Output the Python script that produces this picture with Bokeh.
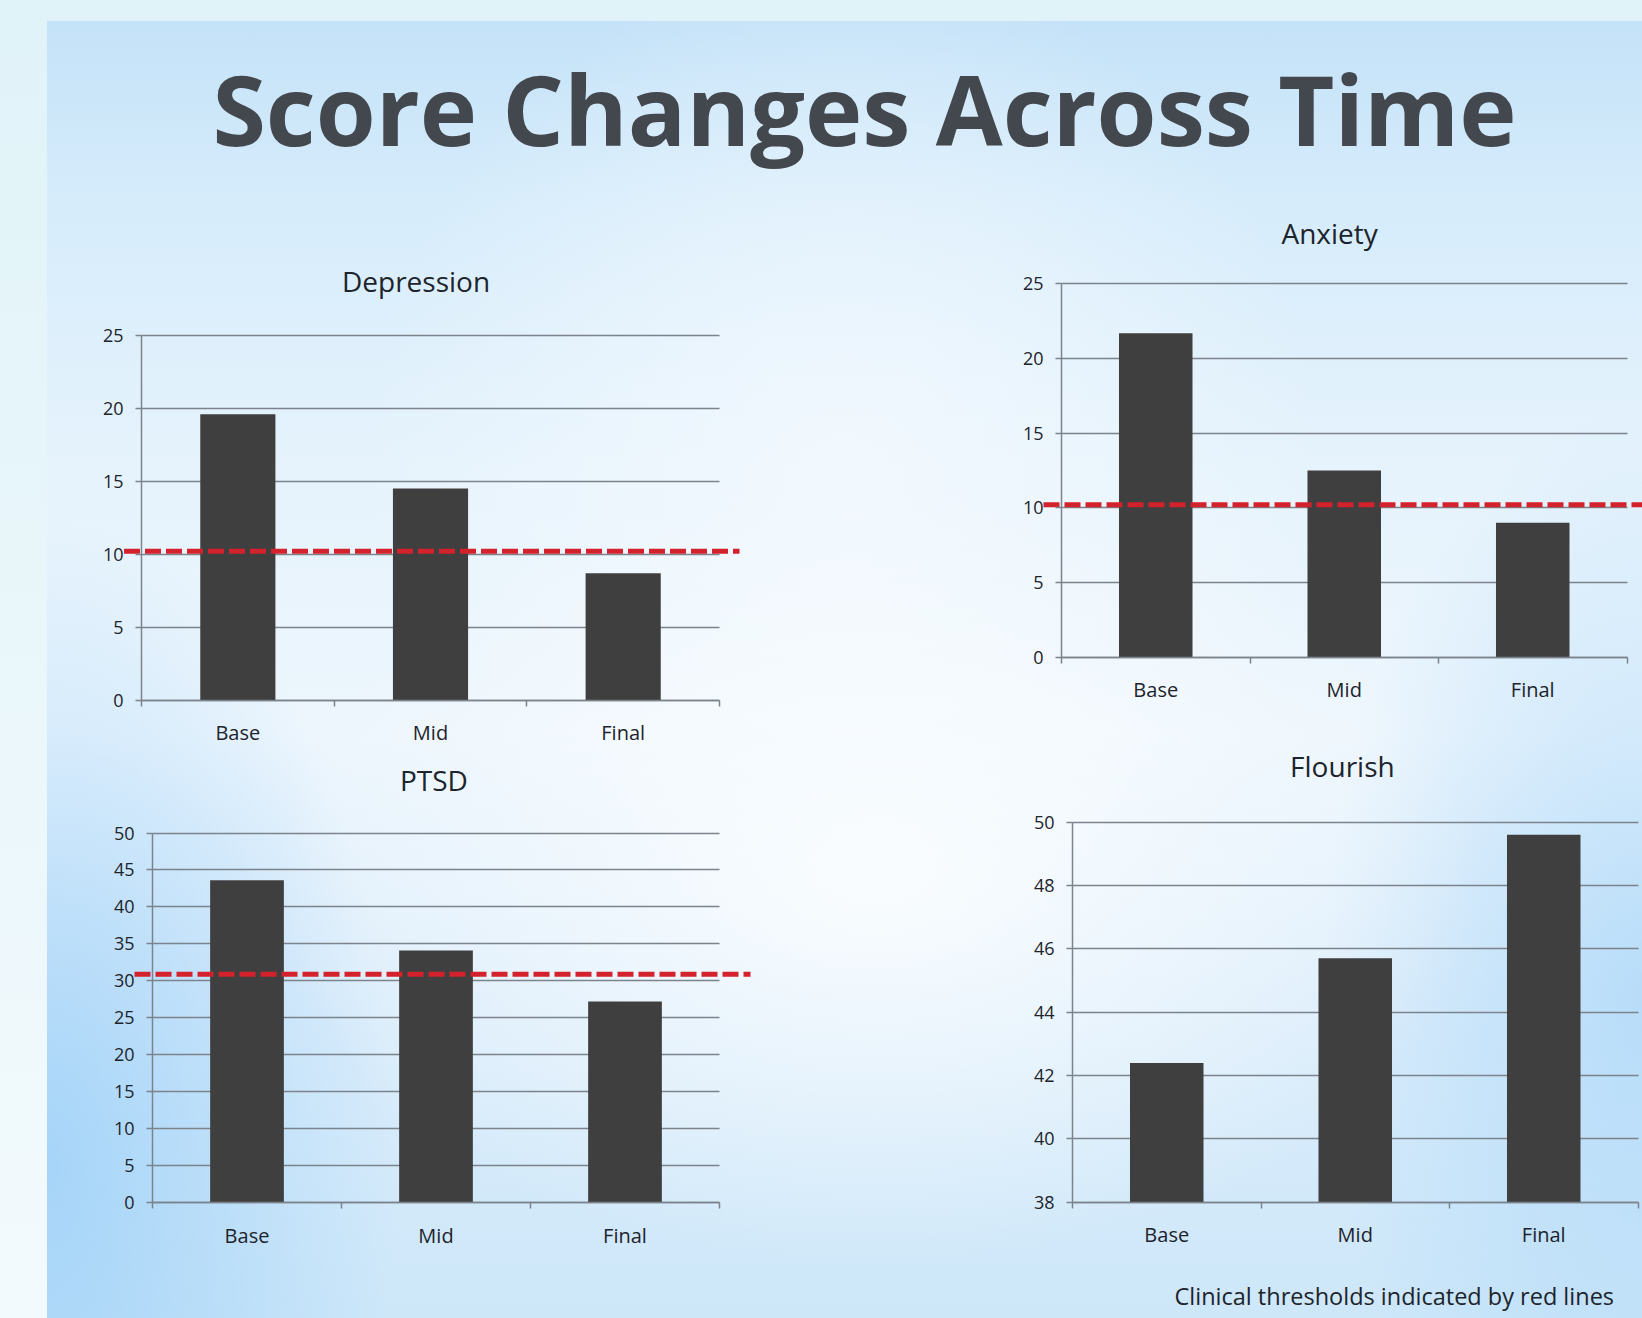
from bokeh.plotting import figure
from bokeh.models import Range1d, FixedTicker, Spacer, Grid
from bokeh.layouts import column, row
from bokeh.embed import file_html
from bokeh.resources import INLINE
from bokeh.core.properties import value

# ---------------- data ----------------
categories = ["Base", "Mid", "Final"]
depression = [19.6, 14.5, 8.7]
anxiety = [21.7, 12.5, 9.0]
ptsd = [43.6, 34.1, 27.2]
flourish = [42.4, 45.7, 49.6]
depression_threshold = 10.2
anxiety_threshold = 10.2
ptsd_threshold = 30.9
depression_ticks = [0, 5, 10, 15, 20, 25]
anxiety_ticks = [0, 5, 10, 15, 20, 25]
ptsd_ticks = [0, 5, 10, 15, 20, 25, 30, 35, 40, 45, 50]
flourish_ticks = [38, 40, 42, 44, 46, 48, 50]
main_title = "Score Changes Across Time"
footnote = "Clinical thresholds indicated by red lines"

FONT = "Open Sans"
BAR = "#3f3f3f"
GRID = "#7b848c"
LABEL = "#1d242c"
RED = "#d4222c"


def make_chart(name, values, ticks, threshold, g):
    fl, ft, fw, fh = g["fig"]
    unit = g["unit"]
    ax = g["axis_x"]
    frame_left = g["frame_left"]
    frame_right = fl + fw
    frame_top = g["title_y"] + 22
    frame_bottom = ft + fh
    x0 = (frame_left - ax) / unit
    x1 = (frame_right - ax) / unit
    ymin, ymax = ticks[0], ticks[-1]
    ppu = (g["y_bot"] - g["y_top"]) / (ymax - ymin)
    y0 = ymin - (frame_bottom - g["y_bot"]) / ppu
    y1 = ymax + (g["y_top"] - frame_top) / ppu
    p = figure(width=fw, height=fh, output_backend="svg", toolbar_location=None, tools="",
               x_range=Range1d(x0, x1), y_range=Range1d(y0, y1),
               min_border_left=int(frame_left - fl), min_border_right=0,
               min_border_top=int(round(frame_top - ft)), min_border_bottom=0,
               background_fill_color=None, border_fill_color=None,
               outline_line_color=None, title=name)
    n = len(categories)
    xs = [i + 0.5 for i in range(n)]
    p.vbar(x=xs, top=values, bottom=ymin, width=0.39, fill_color=BAR, line_color=None)
    if threshold is not None:
        rx0 = (g["red_left"] - ax) / unit
        rx1 = (min(g["red_right"], frame_right) - ax) / unit
        p.segment(x0=[rx0], y0=[threshold], x1=[rx1], y1=[threshold], line_color=RED,
                  line_width=5, line_dash="16 5")
    # y axis
    yax = p.yaxis[0]
    yax.ticker = FixedTicker(ticks=ticks)
    yax.fixed_location = 0
    yax.bounds = (ymin, ymax)
    yax.axis_line_color = GRID
    yax.axis_line_width = 1.5
    yax.major_tick_line_color = GRID
    yax.major_tick_line_width = 1.5
    yax.major_tick_out = 6
    yax.major_tick_in = 0
    yax.minor_tick_line_color = None
    yax.major_label_standoff = 12
    yax.major_label_text_font = FONT
    yax.major_label_text_font_size = "18px"
    yax.major_label_text_color = LABEL
    # x axis
    xax = p.xaxis[0]
    xax.ticker = FixedTicker(ticks=xs, minor_ticks=list(range(n + 1)))
    xax.major_label_overrides = {x: c for x, c in zip(xs, categories)}
    xax.fixed_location = ymin
    xax.bounds = (0, n)
    xax.axis_line_color = GRID
    xax.axis_line_width = 1.5
    xax.major_tick_line_color = None
    xax.major_tick_out = 0
    xax.major_tick_in = 0
    xax.minor_tick_line_color = GRID
    xax.minor_tick_line_width = 1.5
    xax.minor_tick_out = 6
    xax.minor_tick_in = 0
    xax.major_label_standoff = 13
    xax.major_label_text_font = FONT
    xax.major_label_text_font_size = "20px"
    xax.major_label_text_color = LABEL
    # grid
    p.xgrid.visible = False
    p.ygrid.grid_line_color = GRID
    p.ygrid.grid_line_width = 1.5
    if hasattr(Grid, "cross_bounds"):
        p.ygrid.cross_bounds = (0, n)
    # title
    tsize = 28
    tw = g["title_em"] * tsize
    p.title.align = "left"
    p.title.offset = g["title_center"] - tw / 2 - frame_left
    p.title.standoff = 8
    p.title.text_font = FONT
    p.title.text_font_size = f"{tsize}px"
    p.title.text_font_style = "normal"
    p.title.text_color = LABEL
    return p, (ax, unit, ymin, ppu, g["y_bot"])


geo = {
    "dep": dict(fig=(47, 191, 723, 554), frame_left=83, axis_x=141, unit=192.67, y_top=335, y_bot=699.5,
                red_left=123.5, red_right=739, title_center=415, title_y=281, title_em=5.25),
    "ptsd": dict(fig=(47, 745, 723, 573), frame_left=83, axis_x=152, unit=189, y_top=832.5, y_bot=1202,
                 red_left=134, red_right=750, title_center=432.5, title_y=780, title_em=2.36),
    "anx": dict(fig=(770, 191, 872, 537), frame_left=1003, axis_x=1061, unit=188.5, y_top=283, y_bot=656.5,
                red_left=1043, red_right=1642, title_center=1328, title_y=232.5, title_em=3.36),
    "flo": dict(fig=(770, 728, 872, 590), frame_left=1003, axis_x=1072, unit=188.5, y_top=822, y_bot=1202,
                red_left=None, red_right=None, title_center=1340, title_y=766.5, title_em=3.6),
}

p_dep, _ = make_chart("Depression", depression, depression_ticks, depression_threshold, geo["dep"])
p_ptsd, _ = make_chart("PTSD", ptsd, ptsd_ticks, ptsd_threshold, geo["ptsd"])
p_anx, _ = make_chart("Anxiety", anxiety, anxiety_ticks, anxiety_threshold, geo["anx"])
p_flo, (f_ax, f_unit, f_ymin, f_ppu, f_ybot) = make_chart("Flourish", flourish, flourish_ticks, None, geo["flo"])

# footnote inside the Flourish figure, below its category labels
p_flo.text(x=[(1174 - f_ax) / f_unit], y=[f_ymin - (1295.5 - f_ybot) / f_ppu], text=[footnote],
           text_font=value(FONT), text_font_size="23.5px", text_color=LABEL,
           text_align="left", text_baseline="middle")

# header carrying the slide title
header = figure(width=1595, height=170, output_backend="svg", toolbar_location=None, tools="",
                x_range=Range1d(0, 1), y_range=Range1d(0, 1),
                min_border_left=39, min_border_right=0, min_border_top=169, min_border_bottom=0,
                x_axis_location=None, y_axis_location=None,
                background_fill_color=None, border_fill_color=None, outline_line_color=None,
                title=main_title)
header.grid.visible = False
header.title.align = "center"
header.title.vertical_align = "bottom"
header.title.standoff = 36
header.title.text_font = FONT
header.title.text_font_size = "97px"
header.title.text_font_style = "bold"
header.title.text_color = "#43474e"

slide_bg = ("radial-gradient(ellipse 38% 30% at 52% 66%, rgba(250,253,255,0.95) 0%, rgba(250,253,255,0) 100%),"
            "radial-gradient(ellipse 30% 40% at 50% 35%, rgba(245,250,255,0.8) 0%, rgba(245,250,255,0) 100%),"
            "radial-gradient(ellipse 22% 50% at 0% 88%, rgba(150,205,248,0.75) 0%, rgba(150,205,248,0) 100%),"
            "radial-gradient(ellipse 20% 45% at 100% 75%, rgba(160,210,248,0.6) 0%, rgba(160,210,248,0) 100%),"
            "linear-gradient(180deg, #c4e2f8 0%, #d6ecfb 14%, #e6f3fc 35%, #edf6fd 55%, #dcedfb 75%, #cde7f9 100%)")

left_col = column(p_dep, p_ptsd)
right_col = column(p_anx, p_flo)
slide = column(header, row(left_col, right_col), styles={"background": slide_bg})

page = column(Spacer(width=1642, height=21),
              row(Spacer(width=47, height=1297), slide),
              styles={"background": "linear-gradient(180deg, #e0f3f8 0%, #f3fafd 100%)"})

open("out.html", "w").write(file_html(page, INLINE))
